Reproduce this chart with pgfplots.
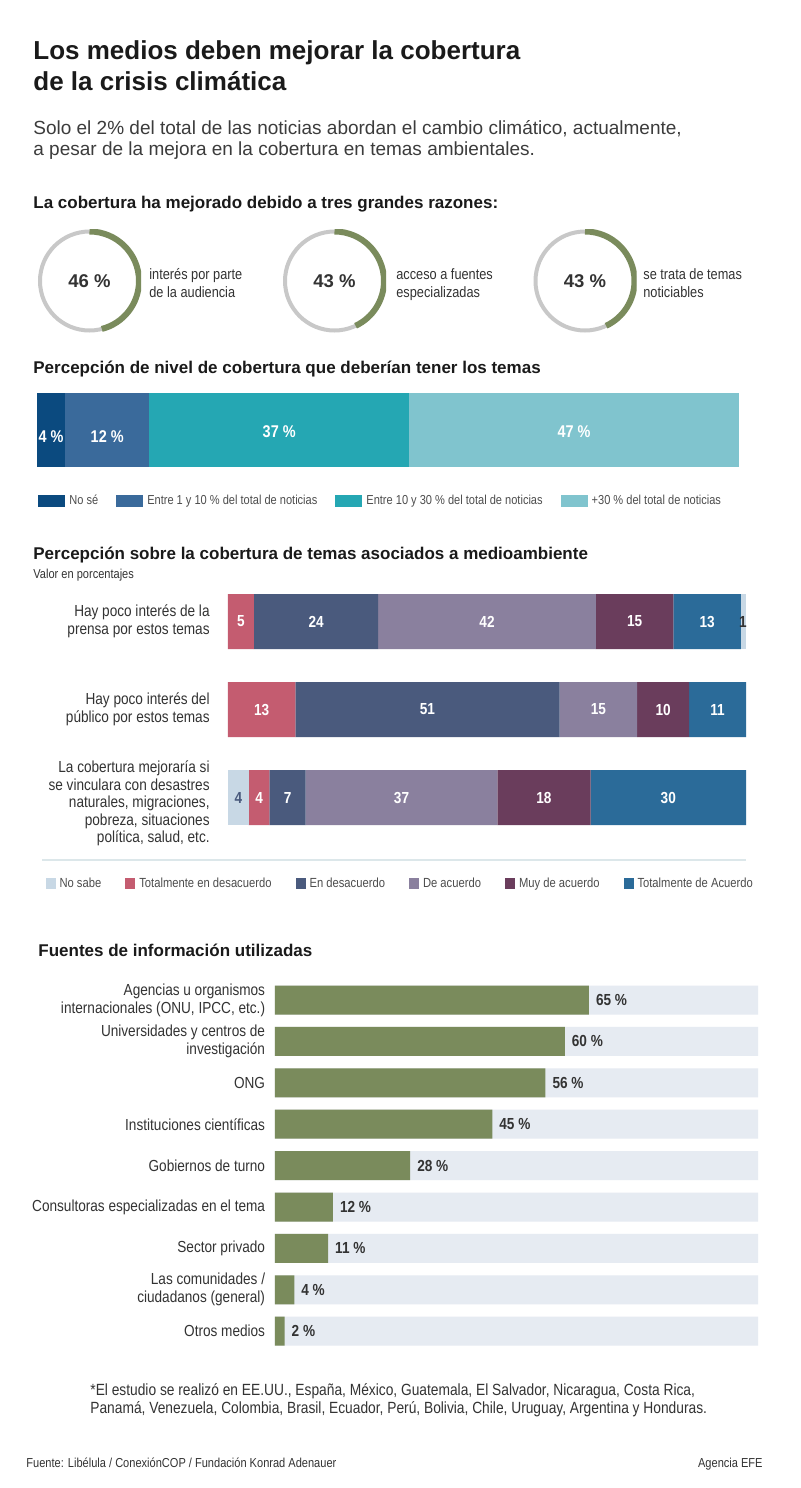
\documentclass[border=0pt]{standalone}
\usepackage{fontspec}
\setmainfont{Liberation Sans}
\newfontfamily\nar[FakeStretch=0.85]{Liberation Sans}
\usepackage{pgfplots}
\usepackage{pgfplotstable}
\pgfplotsset{compat=1.18}
\definecolor{tit}{HTML}{1A1A1A}
\definecolor{sub}{HTML}{3C3C3C}
\definecolor{lab}{HTML}{333333}
\definecolor{legtext}{HTML}{4D4D4D}
\definecolor{gr}{HTML}{7A8B5C}
\definecolor{dgray}{HTML}{C8C8C8}
\definecolor{ca}{HTML}{0B4A7F}
\definecolor{cb}{HTML}{3A6A9B}
\definecolor{cc}{HTML}{25A7B3}
\definecolor{cd}{HTML}{80C4CE}
\definecolor{ns}{HTML}{C8D8E5}
\definecolor{td}{HTML}{C45C70}
\definecolor{ed}{HTML}{4A5A7D}
\definecolor{da}{HTML}{8A809E}
\definecolor{mu}{HTML}{6A3D5C}
\definecolor{ta}{HTML}{2B6B99}
\definecolor{bg}{HTML}{E6EBF2}
\definecolor{sep}{HTML}{DCE7EA}

\pgfplotstableread{
row NoSabeL TotDes EnDes DeAc Muy TotAc NoSabeR
0   0       5      24    42   15  13    1
1   0       13     51    15   10  11    0
2   4       4      7     37   18  30    0
}\percepcion

\pgfplotstableread{
row val full
0 65 100
1 60 100
2 56 100
3 45 100
4 28 100
5 12 100
6 11 100
7 4 100
8 2 100
}\fuentes

\newcommand\donut[2]{%
\begin{axis}[at={#1}, anchor=center, scale only axis, width=51.5pt, height=51.5pt,
  xmin=-1, xmax=1, ymin=-1, ymax=1, hide axis]
\draw[dgray, line width=2pt] (axis cs:0,0) circle[radius=24.75pt];
\draw[gr, line width=3pt] (axis cs:0,0) ++(90:24.75pt) arc[start angle=90, delta angle=-3.6*#2, radius=24.75pt];
\node[font=\bfseries\fontsize{9.25pt}{10pt}\selectfont, text=lab] at (axis cs:0,0) {#2 \%};
\end{axis}}

\pgfplotsset{
  secA/.style={at={(18.5pt,-196.5pt)}, anchor=north west, scale only axis,
    width=351pt, height=37pt, xmin=0, xmax=100, ymin=-0.5, ymax=0.5},
  secB/.style={at={(114pt,-297pt)}, anchor=north west, scale only axis,
    width=259pt, height=115.5pt, xmin=0, xmax=100, ymin=-0.3125, ymax=2.3125, y dir=reverse}
}

\begin{document}
\begin{tikzpicture}[x=0.5pt,y=-0.5pt]
\path[fill=white, use as bounding box] (0,0) rectangle (800,1488);

% ---- Title
\node[anchor=base west, inner sep=0pt, font=\bfseries\fontsize{13pt}{15pt}\selectfont, text=tit] at (33,59) {Los medios deben mejorar la cobertura};
\node[anchor=base west, inner sep=0pt, font=\bfseries\fontsize{13pt}{15pt}\selectfont, text=tit] at (33,90) {de la crisis climática};
\node[anchor=base west, inner sep=0pt, font=\fontsize{9.5pt}{11pt}\selectfont, text=sub] at (33,134) {Solo el 2\% del total de las noticias abordan el cambio climático, actualmente,};
\node[anchor=base west, inner sep=0pt, font=\fontsize{9.5pt}{11pt}\selectfont, text=sub] at (33,155) {a pesar de la mejora en la cobertura en temas ambientales.};

% ---- Donuts
\node[anchor=base west, inner sep=0pt, font=\bfseries\fontsize{8.5pt}{10pt}\selectfont, text=tit] at (33,208) {La cobertura ha mejorado debido a tres grandes razones:};
\donut{(44.75pt,-140.5pt)}{46}
\donut{(167.25pt,-140.5pt)}{43}
\donut{(292.5pt,-140.5pt)}{43}
\node[anchor=base west, inner sep=0pt, font=\nar\fontsize{7.5pt}{9pt}\selectfont, text=lab] at (149,279) {interés por parte};
\node[anchor=base west, inner sep=0pt, font=\nar\fontsize{7.5pt}{9pt}\selectfont, text=lab] at (149,297) {de la audiencia};
\node[anchor=base west, inner sep=0pt, font=\nar\fontsize{7.5pt}{9pt}\selectfont, text=lab] at (396,279) {acceso a fuentes};
\node[anchor=base west, inner sep=0pt, font=\nar\fontsize{7.5pt}{9pt}\selectfont, text=lab] at (396,297) {especializadas};
\node[anchor=base west, inner sep=0pt, font=\nar\fontsize{7.5pt}{9pt}\selectfont, text=lab] at (643,279) {se trata de temas};
\node[anchor=base west, inner sep=0pt, font=\nar\fontsize{7.5pt}{9pt}\selectfont, text=lab] at (643,297) {noticiables};

% ---- Section 2
\node[anchor=base west, inner sep=0pt, font=\bfseries\fontsize{8.5pt}{10pt}\selectfont, text=tit] at (33,373) {Percepción de nivel de cobertura que deberían tener los temas};
\begin{axis}[secA, xbar stacked, bar width=37pt, hide axis,
  legend columns=4, legend cell align=left,
  legend image code/.code={\fill[#1] (0pt,-3pt) rectangle (13.5pt,3pt);},
  legend style={at={(0.0014,-0.46)}, anchor=west, draw=none, fill=none, inner sep=0pt,
    font=\nar\fontsize{6.5pt}{7pt}\selectfont, text=legtext,
    /tikz/every even column/.append style={column sep=7pt}}]
\addplot[fill=ca, draw=none] coordinates {(4,0)};
\addplot[fill=cb, draw=none] coordinates {(12,0)};
\addplot[fill=cc, draw=none] coordinates {(37,0)};
\addplot[fill=cd, draw=none] coordinates {(47,0)};
\legend{No sé, Entre 1 y 10 \% del total de noticias, Entre 10 y 30 \% del total de noticias, +30 \% del total de noticias}
\end{axis}
\begin{axis}[secA, hide axis]
\tikzset{lblA/.style={font=\nar\bfseries\fontsize{8.5pt}{9pt}\selectfont, text=white}}
\node[lblA] at (axis cs:2,-0.095) {4 \%};
\node[lblA] at (axis cs:10,-0.095) {12 \%};
\node[lblA] at (axis cs:34.5,-0.027) {37 \%};
\node[lblA] at (axis cs:76.5,-0.027) {47 \%};
\end{axis}

% ---- Section 3
\node[anchor=base west, inner sep=0pt, font=\bfseries\fontsize{8.5pt}{10pt}\selectfont, text=tit] at (33,559) {Percepción sobre la cobertura de temas asociados a medioambiente};
\node[anchor=base west, inner sep=0pt, font=\nar\fontsize{6.5pt}{8pt}\selectfont, text=lab] at (33,578) {Valor en porcentajes};
\begin{axis}[secB, xbar stacked, bar width=27.5pt,
  axis line style={draw=none}, tick style={draw=none}, xtick=\empty,
  ytick={0,1,2.068},
  yticklabels={{Hay poco interés de la\\prensa por estos temas},{Hay poco interés del\\público por estos temas},{La cobertura mejoraría si\\se vinculara con desastres\\naturales, migraciones,\\pobreza, situaciones\\política, salud, etc.}},
  yticklabel style={align=right, anchor=east, inner sep=0pt, xshift=-9pt, font=\nar\fontsize{8pt}{8.75pt}\selectfont, text=lab},
  legend columns=6, legend cell align=left,
  legend image code/.code={\fill[#1] (0pt,-2.75pt) rectangle (5pt,2.75pt);},
  legend style={at={(-0.353,-0.255)}, anchor=west, draw=none, fill=none, inner sep=0pt,
    font=\nar\fontsize{6.6pt}{7pt}\selectfont, text=legtext,
    /tikz/every even column/.append style={column sep=10pt}}]
\addplot[fill=ns, draw=none] table[x=NoSabeL, y=row] {\percepcion};
\addplot[fill=td, draw=none] table[x=TotDes, y=row] {\percepcion};
\addplot[fill=ed, draw=none] table[x=EnDes, y=row] {\percepcion};
\addplot[fill=da, draw=none] table[x=DeAc, y=row] {\percepcion};
\addplot[fill=mu, draw=none] table[x=Muy, y=row] {\percepcion};
\addplot[fill=ta, draw=none] table[x=TotAc, y=row] {\percepcion};
\addplot[fill=ns, draw=none, forget plot] table[x=NoSabeR, y=row] {\percepcion};
\legend{No sabe, Totalmente en desacuerdo, En desacuerdo, De acuerdo, Muy de acuerdo, Totalmente de Acuerdo}
\end{axis}
\begin{axis}[secB, hide axis]
\tikzset{lbl/.style={font=\nar\bfseries\fontsize{8pt}{9pt}\selectfont, text=white}}
\node[lbl] at (axis cs:2.5,0) {5};
\node[lbl] at (axis cs:17,0) {24};
\node[lbl] at (axis cs:50,0) {42};
\node[lbl] at (axis cs:78.5,0) {15};
\node[lbl] at (axis cs:92.5,0) {13};
\node[lbl, text=lab] at (axis cs:99.4,0) {1};
\node[lbl] at (axis cs:6.5,1) {13};
\node[lbl] at (axis cs:38.5,1) {51};
\node[lbl] at (axis cs:71.5,1) {15};
\node[lbl] at (axis cs:84,1) {10};
\node[lbl] at (axis cs:94.5,1) {11};
\node[lbl, text=ed] at (axis cs:2,2) {4};
\node[lbl] at (axis cs:6,2) {4};
\node[lbl] at (axis cs:11.5,2) {7};
\node[lbl] at (axis cs:33.5,2) {37};
\node[lbl] at (axis cs:61,2) {18};
\node[lbl] at (axis cs:85,2) {30};
\end{axis}
\draw[sep, line width=1pt] (42,860) -- (746,860);

% ---- Section 4
\node[anchor=base west, inner sep=0pt, font=\bfseries\fontsize{8.5pt}{10pt}\selectfont, text=tit] at (38,956) {Fuentes de información utilizadas};
\begin{axis}[at={(137.5pt,-489.65pt)}, anchor=north west, scale only axis,
  width=241.5pt, height=186.3pt, xbar, bar width=14.5pt,
  xmin=0, xmax=100, ymin=-0.5, ymax=8.5, y dir=reverse,
  axis line style={draw=none}, tick style={draw=none}, xtick=\empty,
  ytick={0,...,8},
  yticklabels={{Agencias u organismos\\internacionales (ONU, IPCC, etc.)},{Universidades y centros de\\investigación},ONG,Instituciones científicas,Gobiernos de turno,Consultoras especializadas en el tema,Sector privado,{Las comunidades /\\ciudadanos (general)},Otros medios},
  yticklabel style={align=right, anchor=east, inner sep=0pt, xshift=-0.5pt, font=\nar\fontsize{8pt}{9pt}\selectfont, text=lab}]
\addplot[fill=bg, draw=none, bar shift=0pt] table[x=full, y=row] {\fuentes};
\addplot[fill=gr, draw=none, bar shift=0pt, point meta=x,
  nodes near coords={\pgfmathprintnumber[assume math mode=true]{\pgfplotspointmeta}~\%},
  every node near coord/.append style={anchor=west, font=\nar\bfseries\fontsize{8pt}{9pt}\selectfont, text=lab}]
  table[x=val, y=row] {\fuentes};
\end{axis}

% ---- Footnotes
\node[anchor=base west, inner sep=0pt, font=\nar\fontsize{8.1pt}{9pt}\selectfont, text=lab] at (90,1395) {*El estudio se realizó en EE.UU., España, México, Guatemala, El Salvador, Nicaragua, Costa Rica,};
\node[anchor=base west, inner sep=0pt, font=\nar\fontsize{8.1pt}{9pt}\selectfont, text=lab] at (90,1413) {Panamá, Venezuela, Colombia, Brasil, Ecuador, Perú, Bolivia, Chile, Uruguay, Argentina y Honduras.};
\node[anchor=base west, inner sep=0pt, font=\nar\fontsize{6.5pt}{8pt}\selectfont, text=lab] at (26,1467) {Fuente: Libélula / ConexiónCOP / Fundación Konrad Adenauer};
\node[anchor=base east, inner sep=0pt, font=\nar\fontsize{6.5pt}{8pt}\selectfont, text=lab] at (763,1467) {Agencia EFE};
\end{tikzpicture}
\end{document}
